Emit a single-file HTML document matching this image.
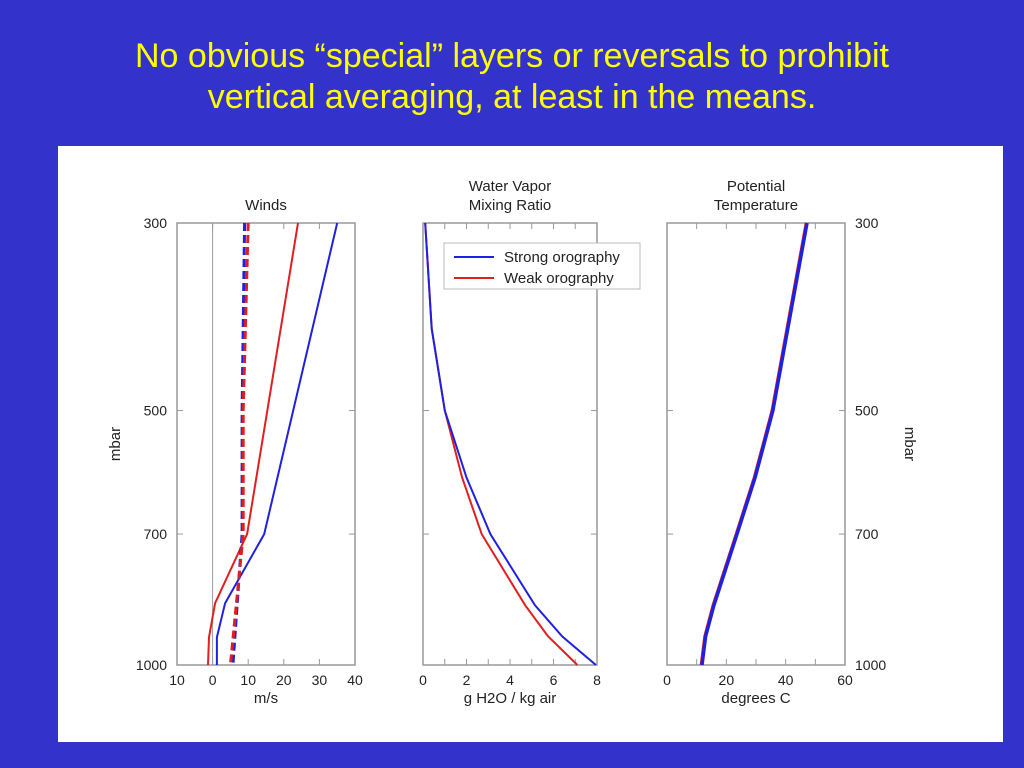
<!DOCTYPE html>
<html><head><meta charset="utf-8"><style>
body{margin:0;width:1024px;height:768px;background:#3333cc;overflow:hidden;font-family:"Liberation Sans",sans-serif}
#title{position:absolute;left:0;width:1024px;top:36px;text-align:center;color:#ffff00;font-size:34px;line-height:41px}
svg{position:absolute;left:0;top:0}
</style></head><body>
<div id="title">No obvious “special” layers or reversals to prohibit<br>vertical averaging, at least in the means.</div>
<svg id="c" width="1024" height="768"></svg>
<script>
const pressureTicks=[300,500,700,1000];
const windP=[300,700,845,927,1000];
const windStrong=[35,14.5,3.5,1.2,1.2];
const windWeak=[24,9.7,0.7,-1,-1.3];
const windStrongMeanP=[300,500,700,1000];
const windStrongMean=[9,8.3,8.3,5.7];
const windWeakMean=[10,8.6,8.6,5];
const vapP=[300,400,500,600,700,850,925,1000];
const vapStrong=[0.1,0.4,1.0,2.0,3.1,5.15,6.4,7.95];
const vapWeak=[0.1,0.4,1.0,1.8,2.7,4.7,5.75,7.1];
const thetaP=[300,500,600,700,850,925,1000];
const thetaStrong=[47.2,35.7,29.7,23.6,15.8,13,11.8];
const thetaWeak=[47.0,35.5,29.5,23.4,15.6,12.8,11.6];
const windTicks=[-10,0,10,20,30,40];
const windTickLabels=["10","0","10","20","30","40"];
const vapTicks=[0,1,2,3,4,5,6,7,8];
const vapTickLabels=["0","","2","","4","","6","","8"];
const thetaTicks=[0,10,20,30,40,50,60];
const thetaTickLabels=["0","","20","","40","","60"];

const NS="http://www.w3.org/2000/svg";
const svg=document.getElementById('c');
function mk(t,a,p){const e=document.createElementNS(NS,t);for(const k in a)e.setAttribute(k,a[k]);(p||svg).appendChild(e);return e;}
const bg=mk('rect',{x:58,y:146,width:945,height:596,fill:'#fff'});


const Y0=223,Y1=665;
function y(p){return Y0+(Math.log(p)-Math.log(300))/(Math.log(1000)-Math.log(300))*(Y1-Y0);}
function panel(name,x0,x1,dmin,dmax,ticks,labels,title,xlabel,leftLabels,rightLabels){
  const g=mk('g',{});
  
  
  const sx=v=>x0+(v-dmin)/(dmax-dmin)*(x1-x0);
  mk('rect',{x:x0,y:Y0,width:x1-x0,height:Y1-Y0,fill:'none',stroke:'#999','stroke-width':1.5},g);
  ticks.forEach((t,i)=>{const X=sx(t);
    mk('line',{x1:X,x2:X,y1:Y1,y2:Y1-6,stroke:'#999'},g);
    mk('line',{x1:X,x2:X,y1:Y0,y2:Y0+6,stroke:'#999'},g);
    const tl=mk('text',{x:X,y:Y1+20,'text-anchor':'middle','font-size':14,fill:'#222'},g);tl.textContent=labels[i];
    
    
  });
  pressureTicks.forEach(p=>{const Y=y(p);
    mk('line',{x1:x0,x2:x0+6,y1:Y,y2:Y,stroke:'#999'},g);
    mk('line',{x1:x1,x2:x1-6,y1:Y,y2:Y,stroke:'#999'},g);
    if(leftLabels){const t=mk('text',{x:x0-10,y:Y+5,'text-anchor':'end','font-size':14,fill:'#222'},g);t.textContent=p;
      
      }
    if(rightLabels){const t=mk('text',{x:x1+10,y:Y+5,'text-anchor':'start','font-size':14,fill:'#222'},g);t.textContent=p;
      
      }
  });
  title.forEach((s,i)=>{const t=mk('text',{x:(x0+x1)/2,y:210-(title.length-1-i)*19,'text-anchor':'middle','font-size':15,fill:'#222'},g);t.textContent=s;
    
    });
  const xl=mk('text',{x:(x0+x1)/2,y:703,'text-anchor':'middle','font-size':15,fill:'#222'},g);xl.textContent=xlabel;
  
  
  return {g,sx};
}
function line(P,sx,ps,vs,color,w,dash,name){
  const d=vs.map((v,i)=>(i?'L':'M')+sx(v).toFixed(1)+','+y(ps[i]).toFixed(1)).join('');
  const e=mk('path',{d,fill:'none',stroke:color,'stroke-width':w,'stroke-dasharray':dash||'none'},P.g);
  
  
}
const W=panel('winds',177,355,-10,40,windTicks,windTickLabels,['Winds'],'m/s',true,false);
mk('line',{x1:W.sx(0),x2:W.sx(0),y1:Y0,y2:Y1,stroke:'#999'},W.g);
line(W,W.sx,windP,windWeak,'#e02020',2,null,'weak-wind-line');
line(W,W.sx,windP,windStrong,'#2020e0',2,null,'strong-wind-line');
line(W,W.sx,windStrongMeanP,windStrongMean,'#2020e0',3,'8,4','strong-mean-wind-line');
line(W,W.sx,windStrongMeanP,windWeakMean,'#e02020',3,'8,4','weak-mean-wind-line');
const V=panel('vapor',423,597,0,8,vapTicks,vapTickLabels,['Water Vapor','Mixing Ratio'],'g H2O / kg air',false,false);
line(V,V.sx,vapP,vapWeak,'#e02020',2,null,'weak-vapor-line');
line(V,V.sx,vapP,vapStrong,'#2020e0',2,null,'strong-vapor-line');
const T=panel('theta',667,845,0,60,thetaTicks,thetaTickLabels,['Potential','Temperature'],'degrees C',false,true);
line(T,T.sx,thetaP,thetaWeak,'#e02020',3.5,null,'weak-theta-line');
line(T,T.sx,thetaP,thetaStrong,'#2020e0',3.5,null,'strong-theta-line');
const lg=mk('g',{});


mk('rect',{x:444,y:243,width:196,height:46,fill:'#fff',stroke:'#bbb'},lg);
mk('line',{x1:454,x2:494,y1:257,y2:257,stroke:'#2020e0','stroke-width':2},lg);
mk('line',{x1:454,x2:494,y1:278,y2:278,stroke:'#e02020','stroke-width':2},lg);
const l1=mk('text',{x:504,y:262,'font-size':15,fill:'#222'},lg);l1.textContent='Strong orography';


const l2=mk('text',{x:504,y:283,'font-size':15,fill:'#222'},lg);l2.textContent='Weak orography';


const yl=mk('text',{x:0,y:0,'font-size':15,fill:'#222','text-anchor':'middle',transform:'translate(120,444) rotate(-90)'});yl.textContent='mbar';


const yr=mk('text',{x:0,y:0,'font-size':15,fill:'#222','text-anchor':'middle',transform:'translate(905,444) rotate(90)'});yr.textContent='mbar';


</script>
</body></html>
